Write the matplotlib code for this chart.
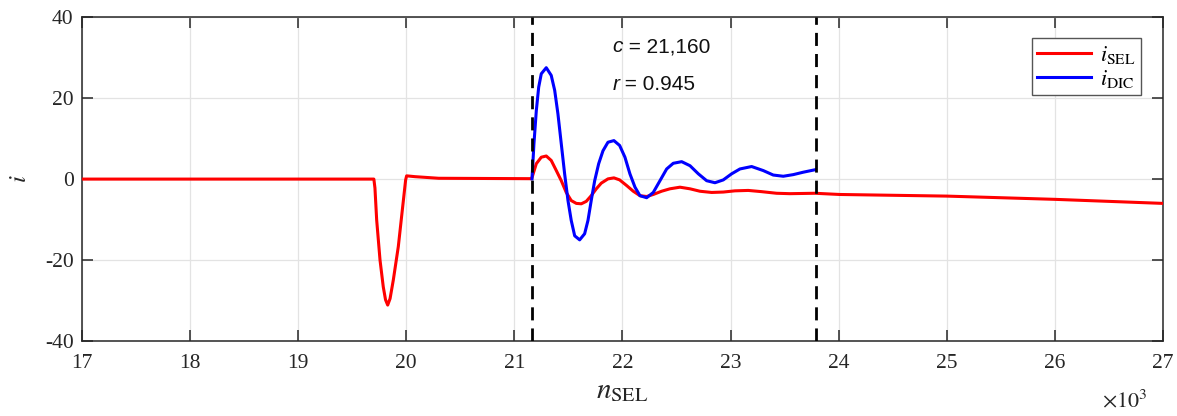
import matplotlib
matplotlib.use("Agg")
import matplotlib.pyplot as plt
from matplotlib.ticker import FuncFormatter, MultipleLocator

plt.rcParams["font.family"] = ["Liberation Serif", "DejaVu Serif"]
plt.rcParams["mathtext.fontset"] = "stix"
plt.rcParams["axes.unicode_minus"] = False

# SEL record: sample index n and current i
sel_n = [17000, 19700, 19710, 19726, 19757, 19787, 19808, 19828, 19850, 19880,
         19926, 19963, 19994, 20003, 20080, 20300, 21160,
         21203, 21249, 21295, 21341, 21388, 21434, 21480, 21526, 21573, 21619,
         21665, 21711, 21758, 21804, 21866, 21921, 21974, 22039, 22100, 22162,
         22224, 22285, 22362, 22439, 22532, 22625, 22717, 22825, 22933, 23041,
         23164, 23287, 23426, 23549, 23781, 24010, 25000, 26000, 27000]
sel_i = [0.0, 0.0, -2.2, -10.1, -20.0, -26.6, -29.8, -31.1, -29.5, -24.9,
         -16.7, -7.7, -0.2, 0.8, 0.6, 0.2, 0.1,
         3.8, 5.4, 5.7, 4.6, 2.1, -0.4, -3.3, -5.3, -6.0, -6.1,
         -5.5, -4.1, -2.4, -1.0, 0.05, 0.3, -0.2, -1.6, -3.0, -4.1,
         -4.3, -3.8, -3.0, -2.4, -2.0, -2.4, -3.0, -3.3, -3.2, -2.9,
         -2.8, -3.1, -3.5, -3.6, -3.5, -3.8, -4.2, -5.0, -6.0]

# DIC record over the matched window
dic_n = [21163, 21181, 21203, 21225, 21249, 21295, 21341, 21373, 21403, 21434,
         21465, 21496, 21526, 21558, 21604, 21650, 21681, 21711, 21743, 21780,
         21820, 21866, 21921, 21974, 22023, 22069, 22116, 22162, 22224, 22285,
         22347, 22409, 22470, 22548, 22625, 22702, 22779, 22856, 22933, 23010,
         23087, 23195, 23303, 23395, 23488, 23580, 23673, 23781]
dic_i = [0.05, 8.7, 16.9, 22.7, 26.0, 27.5, 25.6, 21.9, 16.1, 8.7,
         1.3, -5.3, -10.2, -14.0, -15.0, -13.5, -10.2, -5.3, -0.4, 3.8,
         7.0, 9.1, 9.5, 8.3, 5.4, 1.3, -2.0, -4.1, -4.6, -3.3,
         -0.4, 2.5, 3.9, 4.3, 3.3, 1.3, -0.4, -0.9, -0.2, 1.3,
         2.5, 3.1, 2.1, 1.0, 0.7, 1.1, 1.7, 2.3]

window = [21160, 23790]
c_value = "21,160"
r_value = "0.945"

ink = "#262626"

fig = plt.figure(figsize=(11.77, 4.16), dpi=100)
ax = fig.add_axes([0.0697, 0.180, 0.9183, 0.779])

ax.plot(sel_n, sel_i, color="#ff0000", lw=2.2, label=r"$i_{\mathrm{SEL}}$",
        zorder=3, solid_joinstyle="round")
ax.plot(dic_n, dic_i, color="#0000ff", lw=2.2, label=r"$i_{\mathrm{DIC}}$",
        zorder=4, solid_joinstyle="round")
for xv in window:
    ax.axvline(xv, color="black", lw=2.0, ls=(0, (4.7, 2.9)), zorder=5)

ax.set_xlim(17000, 27000)
ax.set_ylim(-40, 40)
ax.xaxis.set_major_locator(MultipleLocator(1000))
ax.yaxis.set_major_locator(MultipleLocator(20))
ax.xaxis.set_major_formatter(FuncFormatter(lambda v, p: f"{v/1000:g}"))
ax.grid(True, color="#e3e3e3", lw=0.9, zorder=0)
ax.set_axisbelow(True)

for s in ax.spines.values():
    s.set_color(ink)
    s.set_linewidth(1.1)
ax.tick_params(direction="in", length=8, width=1.1, color=ink,
               top=True, right=True, labelsize=15.5, labelcolor=ink)
ax.tick_params(axis="x", pad=9)
ax.tick_params(axis="y", pad=6)

ax.set_xlabel(r"$n_{\mathrm{SEL}}$", fontsize=21, color=ink, labelpad=4)
ax.set_ylabel(r"$i$", fontsize=18, color=ink, labelpad=10)
fig.text(0.975, 0.022, r"$\times10^{3}$", fontsize=16, color=ink, ha="right")

# correlation annotation: italic symbol followed by the value
for sym, val, yf in (("c", c_value, 0.892), ("r", r_value, 0.775)):
    t = ax.text(0.4905, yf, sym, transform=ax.transAxes, fontsize=15,
                family="Liberation Sans", style="italic", color="#111111")
    ax.annotate(" = " + val, xy=(1, 0), xycoords=t, va="bottom",
                fontsize=15, family="Liberation Sans", color="#111111")

leg = ax.legend(loc="upper right", bbox_to_anchor=(0.9796, 0.935), fontsize=16,
                frameon=True, fancybox=False, edgecolor="#555555", framealpha=1,
                handlelength=2.4, handletextpad=0.4, borderpad=0.25,
                labelspacing=0.1, borderaxespad=0)
leg.get_frame().set_linewidth(1.0)

fig.savefig("out.png", dpi=100)
